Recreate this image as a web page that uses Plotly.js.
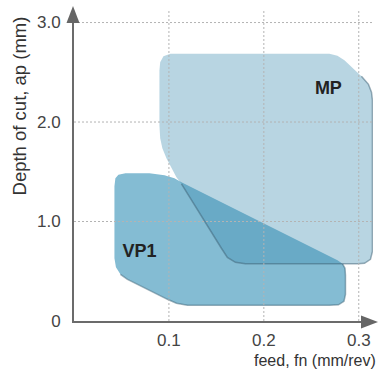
<!DOCTYPE html>
<html>
<head>
<meta charset="utf-8">
<script src="https://cdn.plot.ly/plotly-3.0.1.min.js"></script>
<style>html,body{margin:0;padding:0;background:#fff;}#chart{width:378px;height:381px;}</style>
</head>
<body>
<div id="chart"></div>
<script>
// Tick values / labels
const xTickVals = [0.1, 0.2, 0.3];
const xTickText = ['0.1', '0.2', '0.3'];
const yTickVals = [0, 1, 2, 3];
const yTickText = ['0', '1.0', '2.0', '3.0'];

// Application area outlines (feed fn mm/rev, depth ap mm)
const mpFeed  = [0.0900, 0.0908, 0.0942, 0.1016, 0.2691, 0.2775, 0.2849, 0.3028, 0.3102, 0.3134, 0.3144, 0.3144, 0.3123, 0.3060, 0.2986, 0.1806, 0.1701, 0.1616, 0.1553, 0.1132, 0.1079, 0.1026, 0.0974, 0.0931, 0.0908, 0.0900, 0.0900];
const mpDepth = [2.518, 2.600, 2.660, 2.685, 2.685, 2.665, 2.620, 2.459, 2.379, 2.299, 2.219, 0.700, 0.620, 0.580, 0.575, 0.575, 0.590, 0.640, 0.731, 1.379, 1.444, 1.535, 1.635, 1.736, 1.836, 1.967, 2.518];

const vp1Feed  = [0.0426, 0.0436, 0.0468, 0.0542, 0.0795, 0.0953, 0.1058, 0.1132, 0.2776, 0.2829, 0.2855, 0.2860, 0.2860, 0.2844, 0.2786, 0.2691, 0.1195, 0.1079, 0.0984, 0.0563, 0.0489, 0.0442, 0.0426, 0.0426];
const vp1Depth = [1.354, 1.434, 1.469, 1.484, 1.484, 1.464, 1.434, 1.394, 0.610, 0.575, 0.530, 0.459, 0.268, 0.198, 0.163, 0.158, 0.158, 0.178, 0.218, 0.419, 0.469, 0.540, 0.630, 1.354];

// Area labels
const areaLabels = ['MP', 'VP1'];
const labelFeed  = [0.268, 0.069];
const labelDepth = [2.33, 0.685];

const xRange = [0, 0.315];
const yRange = [0, 3.126];

const traces = [
  {x: vp1Feed, y: vp1Depth, type: 'scatter', mode: 'lines', fill: 'toself',
   fillcolor: 'rgb(132,188,211)', line: {width: 0}, hoverinfo: 'skip'},
  {x: vp1Feed.slice(9, 21), y: vp1Depth.slice(9, 21), type: 'scatter', mode: 'lines',
   line: {color: 'rgba(60,100,120,0.5)', width: 1.5}, hoverinfo: 'skip'},
  {x: mpFeed, y: mpDepth, type: 'scatter', mode: 'lines', fill: 'toself',
   fillcolor: 'rgba(58,139,175,0.36)', line: {width: 0}, hoverinfo: 'skip'},
  {x: mpFeed.slice(7, 20), y: mpDepth.slice(7, 20), type: 'scatter', mode: 'lines',
   line: {color: 'rgba(60,95,115,0.5)', width: 1.5}, hoverinfo: 'skip'},
  {x: labelFeed, y: labelDepth, text: areaLabels, type: 'scatter', mode: 'text',
   textfont: {family: 'Liberation Sans, Arial, sans-serif', size: 18, color: '#222', weight: 'bold'},
   hoverinfo: 'skip'}
];

const gridColor = '#b3b3b3';
const shapes = [];
xTickVals.forEach(v => shapes.push({type: 'line', layer: 'above', xref: 'x', yref: 'paper', x0: v, x1: v, y0: 0, y1: 1,
  line: {color: gridColor, width: 1, dash: '2px,2px'}}));
yTickVals.filter(v => v > 0).forEach(v => shapes.push({type: 'line', layer: 'above', xref: 'paper', yref: 'y', x0: 0, x1: 1, y0: v, y1: v,
  line: {color: gridColor, width: 1, dash: '2px,2px'}}));
// axis arrowheads
shapes.push({type: 'path', layer: 'above', xref: 'paper', yref: 'paper',
  path: 'M -0.0033 1.0129 L -0.0251 0.958 L 0.0184 0.958 Z', fillcolor: '#666', line: {width: 0}});
shapes.push({type: 'path', layer: 'above', xref: 'paper', yref: 'paper',
  path: 'M 1.0167 -0.0032 L 0.9599 0.0177 L 0.9599 -0.0241 Z', fillcolor: '#666', line: {width: 0}});

const tickFont = {family: 'Liberation Sans, Arial, sans-serif', size: 17, color: '#444'};

const layout = {
  width: 378, height: 381,
  margin: {l: 74, r: 5, t: 10, b: 60},
  paper_bgcolor: '#fff', plot_bgcolor: '#fff',
  showlegend: false,
  xaxis: {range: xRange, tickvals: xTickVals, ticktext: xTickText, showgrid: false, zeroline: false,
    showline: true, linecolor: '#6b6b6b', linewidth: 2, ticks: '', ticklabelstandoff: 3, tickfont: tickFont, fixedrange: true},
  yaxis: {range: yRange, tickvals: yTickVals, ticktext: yTickText, showgrid: false, zeroline: false,
    showline: true, linecolor: '#6b6b6b', linewidth: 2, ticks: '', ticklabelstandoff: 8, tickfont: tickFont, fixedrange: true},
  shapes: shapes,
  annotations: [
    {text: 'feed, fn (mm/rev)', xref: 'paper', yref: 'paper', x: 1.017, y: -0.1286, xanchor: 'right', yanchor: 'middle',
     showarrow: false, font: {family: 'Liberation Sans, Arial, sans-serif', size: 16, color: '#333'}},
    {text: 'Depth of cut, ap (mm)', xref: 'paper', yref: 'paper', x: -0.184, y: 0.693, xanchor: 'center', yanchor: 'middle',
     textangle: -90, showarrow: false, font: {family: 'Liberation Sans, Arial, sans-serif', size: 18.5, color: '#333'}}
  ]
};

Plotly.newPlot('chart', traces, layout, {staticPlot: true, displayModeBar: false});
</script>
</body>
</html>
